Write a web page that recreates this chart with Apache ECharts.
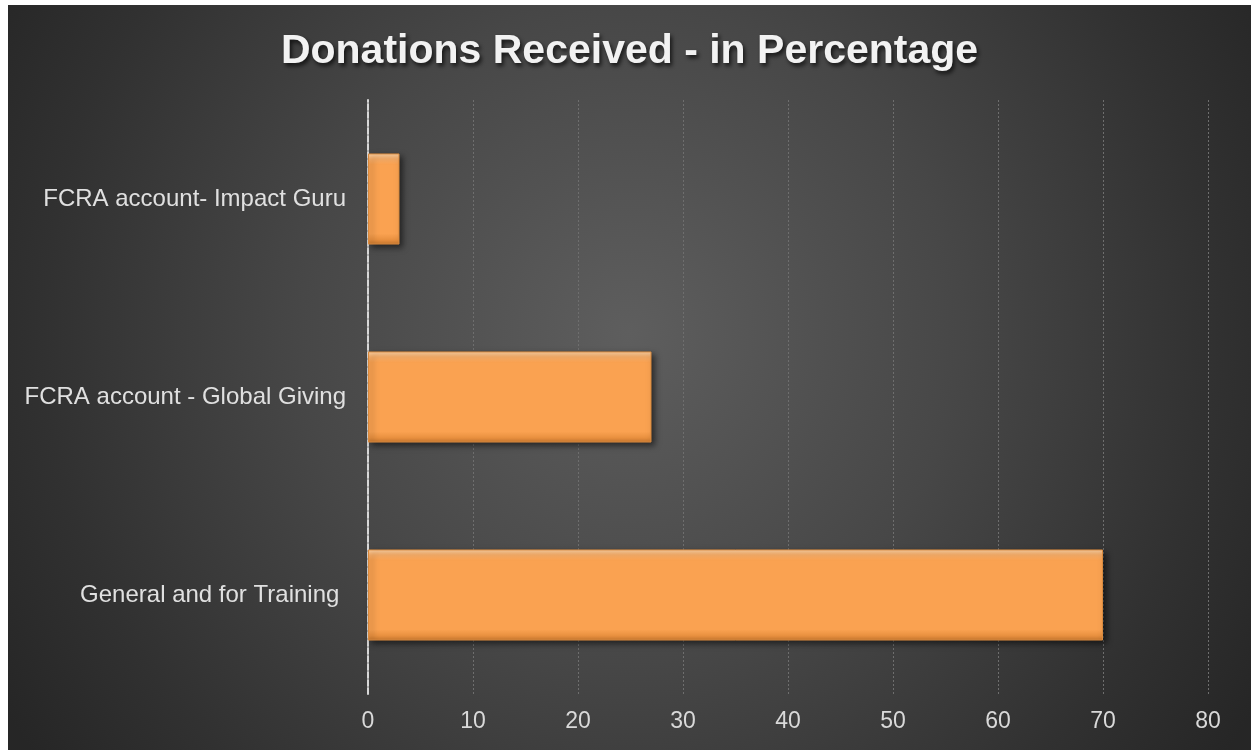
<!DOCTYPE html>
<html>
<head>
<meta charset="utf-8">
<script src="https://cdn.jsdelivr.net/npm/echarts@6/dist/echarts.min.js"></script>
<style>
html,body{margin:0;padding:0;background:#fff;}
#chart{position:absolute;left:8px;top:5px;width:1243px;height:745px;}
</style>
</head>
<body>
<div id="chart"></div>
<script>
const categories = ['General and for Training ', 'FCRA account - Global Giving', 'FCRA account- Impact Guru'];
const values = [70, 27, 3];
const xTicks = { min: 0, max: 80, interval: 10 };
const titleText = 'Donations Received - in Percentage';

const chart = echarts.init(document.getElementById('chart'), null, { renderer: 'canvas' });
chart.setOption({
  backgroundColor: {
    type: 'radial', x: 0.5, y: 0.44, r: 0.98,
    colorStops: [
      { offset: 0, color: '#5e5e5e' },
      { offset: 0.45, color: '#474747' },
      { offset: 0.8, color: '#313131' },
      { offset: 1, color: '#262626' }
    ]
  },
  title: {
    text: titleText,
    left: 'center',
    top: 21,
    textStyle: {
      fontFamily: 'Liberation Sans, Arial, sans-serif',
      fontWeight: 'bold',
      fontSize: 41,
      color: '#f2f2f2',
      textShadowColor: 'rgba(0,0,0,0.7)',
      textShadowBlur: 4,
      textShadowOffsetX: 2,
      textShadowOffsetY: 3
    }
  },
  grid: { left: 360, right: 43, top: 95, bottom: 56, containLabel: false },
  xAxis: {
    type: 'value',
    min: xTicks.min, max: xTicks.max, interval: xTicks.interval,
    axisLine: { show: false },
    axisTick: { show: false },
    axisLabel: {
      color: '#d9d9d9',
      fontFamily: 'Liberation Sans, Arial, sans-serif',
      fontSize: 23,
      margin: 16
    },
    splitLine: { show: true, lineStyle: { color: '#6e6e6e', type: [2, 2], width: 1 } }
  },
  yAxis: {
    type: 'category',
    data: categories,
    axisLine: { show: true, lineStyle: { color: '#d8d8d8', width: 2, type: [6, 2] } },
    axisTick: { show: false },
    axisLabel: {
      color: '#e0e0e0',
      fontFamily: 'Liberation Sans, Arial, sans-serif',
      fontSize: 24,
      margin: 22
    },
    splitLine: { show: false }
  },
  series: [{
    type: 'bar',
    data: values,
    barWidth: '46%',
    itemStyle: {
      color: {
        type: 'linear', x: 0, y: 0, x2: 0, y2: 1,
        colorStops: [
          { offset: 0, color: '#fdd3a6' },
          { offset: 0.06, color: '#fbb06a' },
          { offset: 0.12, color: '#faa251' },
          { offset: 0.88, color: '#faa251' },
          { offset: 0.95, color: '#e8903f' },
          { offset: 1, color: '#c9782f' }
        ]
      },
      borderColor: '#d98a3e',
      borderWidth: 1,
      shadowColor: 'rgba(0,0,0,0.55)',
      shadowBlur: 6,
      shadowOffsetX: 3,
      shadowOffsetY: 3
    }
  }],
  animation: false
});
</script>
</body>
</html>
